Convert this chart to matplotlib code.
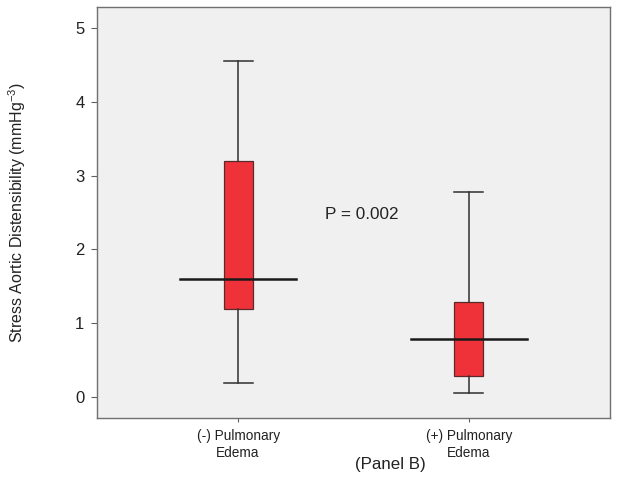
import matplotlib
matplotlib.use("Agg")
import matplotlib.pyplot as plt

categories = ["(-) Pulmonary\nEdema", "(+) Pulmonary\nEdema"]
whislo = [0.20, 0.055]
q1 = [1.20, 0.29]
med = [1.60, 0.79]
q3 = [3.20, 1.29]
whishi = [4.555, 2.78]
p_text = "P = 0.002"

plt.rcParams['font.family'] = ['Arial', 'Liberation Sans', 'DejaVu Sans']

fig = plt.figure(figsize=(6.17, 4.87), dpi=100)
ax = fig.add_axes([97/617, 1-418/487, (610-97)/617, (418-7)/487])
ax.set_facecolor('#f0f0f0')

stats = []
for i in range(len(categories)):
    stats.append(dict(label=categories[i], whislo=whislo[i], q1=q1[i], med=med[i],
                      q3=q3[i], whishi=whishi[i], fliers=[]))
positions = [1, 2]
bp = ax.bxp(stats, positions=positions, widths=0.126, patch_artist=True,
            showfliers=False,
            boxprops=dict(facecolor='#ef3239', edgecolor='#5a2a2a', linewidth=0.9),
            whiskerprops=dict(color='#303030', linewidth=1.1),
            capprops=dict(color='#303030', linewidth=1.1),
            medianprops=dict(color='none'),
            capwidths=0.126)
# median lines extending beyond box
for p, m in zip(positions, med):
    ax.plot([p - 0.25, p + 0.25], [m, m], color='#1a1a1a', linewidth=1.8, zorder=5)

ax.set_xlim(0.389, 2.611)
ax.set_ylim(-0.28, 5.28)
ax.set_yticks([0, 1, 2, 3, 4, 5])
ax.set_xticks(positions)
ax.set_xticklabels(categories, fontsize=9.8, color='#222222', linespacing=1.25)
ax.tick_params(axis='y', labelsize=12, length=4, colors='#606060', labelcolor='#222222', pad=5)
ax.tick_params(axis='x', length=3, colors='#606060', labelcolor='#222222', pad=5)
for s in ax.spines.values():
    s.set_color('#707070')
    s.set_linewidth(1.0)

ax.set_ylabel("Stress Aortic Distensibility (mmHg$^{\\mathregular{-3}}$)", fontsize=11.5, color='#222222')
ax.yaxis.label.set_va('center')
ax.yaxis.set_label_coords(-(97-17)/513, 0.5)
ax.set_xlabel("(Panel B)", fontsize=12.2, color='#222222')
ax.xaxis.label.set_va('center')
ax.xaxis.set_label_coords((390-97)/513, -(464-418)/411)
ax.text(1.376, 2.47, p_text, fontsize=12.3, color='#222222', va='center', ha='left')

fig.savefig("out.png", dpi=100)
